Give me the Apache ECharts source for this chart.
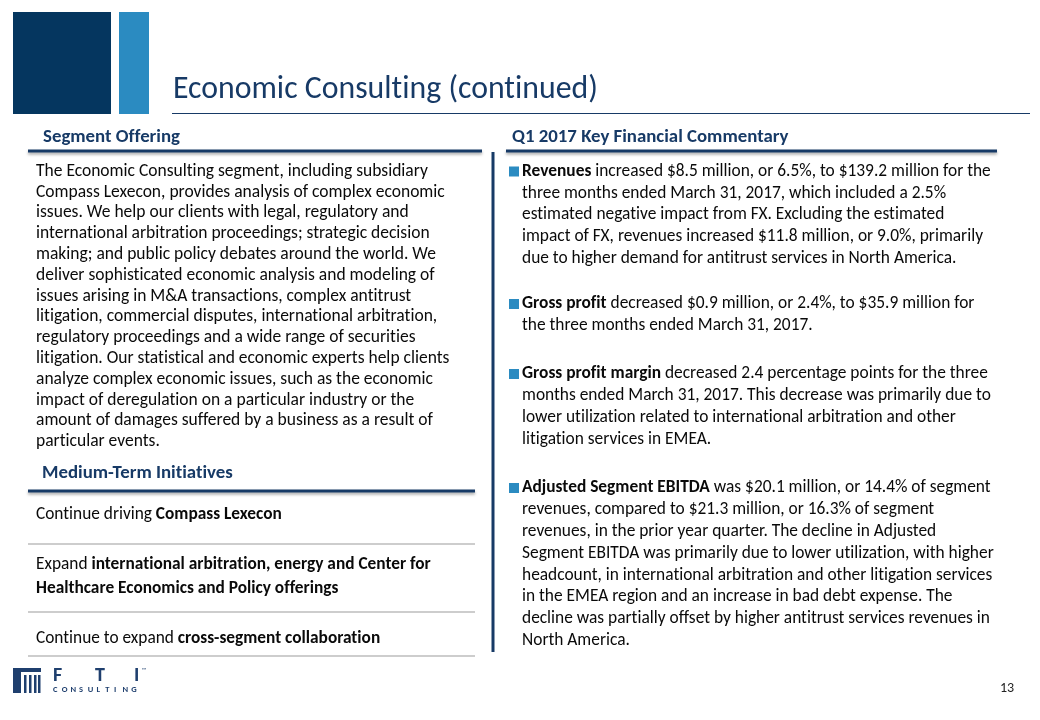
<!DOCTYPE html>
<html>
<head>
<meta charset="utf-8">
<script src="https://cdn.jsdelivr.net/npm/echarts@6/dist/echarts.min.js"></script>
<style>
html,body{margin:0;padding:0;background:#fff;}
#main{width:1040px;height:720px;}
</style>
</head>
<body>
<div id="main"></div>
<script>
// ---------- content (text data) ----------
const titleText = 'Economic Consulting (continued)';
const segmentHeading = 'Segment Offering';
const commentaryHeading = 'Q1 2017 Key Financial Commentary';
const initiativesHeading = 'Medium-Term Initiatives';
const segmentLines = [
  'The Economic Consulting segment, including subsidiary',
  'Compass Lexecon, provides analysis of complex economic',
  'issues. We help our clients with legal, regulatory and',
  'international arbitration proceedings; strategic decision',
  'making; and public policy debates around the world. We',
  'deliver sophisticated economic analysis and modeling of',
  'issues arising in M&A transactions, complex antitrust',
  'litigation, commercial disputes, international arbitration,',
  'regulatory proceedings and a wide range of securities',
  'litigation. Our statistical and economic experts help clients',
  'analyze complex economic issues, such as the economic',
  'impact of deregulation on a particular industry or the',
  'amount of damages suffered by a business as a result of',
  'particular events.'
];
const initiatives = [
  ['Continue driving **Compass Lexecon**'],
  ['Expand **international arbitration, energy and Center for**', '**Healthcare Economics and Policy offerings**'],
  ['Continue to expand **cross-segment collaboration**']
];
const commentary = [
  ['**Revenues** increased $8.5 million, or 6.5%, to $139.2 million for the',
   'three months ended March 31, 2017, which included a 2.5%',
   'estimated negative impact from FX. Excluding the estimated',
   'impact of FX, revenues increased $11.8 million, or 9.0%, primarily',
   'due to higher demand for antitrust services in North America.'],
  ['**Gross profit** decreased $0.9 million, or 2.4%, to $35.9 million for',
   'the three months ended March 31, 2017.'],
  ['**Gross profit margin** decreased 2.4 percentage points for the three',
   'months ended March 31, 2017. This decrease was primarily due to',
   'lower utilization related to international arbitration and other',
   'litigation services in EMEA.'],
  ['**Adjusted Segment EBITDA** was $20.1 million, or 14.4% of segment',
   'revenues, compared to $21.3 million, or 16.3% of segment',
   'revenues, in the prior year quarter. The decline in Adjusted',
   'Segment EBITDA was primarily due to lower utilization, with higher',
   'headcount, in international arbitration and other litigation services',
   'in the EMEA region and an increase in bad debt expense. The',
   'decline was partially offset by higher antitrust services revenues in',
   'North America.']
];
const pageNumber = '13';
const logoWord = 'F T I';
const logoSub = 'CONSULTING';

// ---------- layout helpers ----------
const FONT = 'Carlito, Calibri, Lato, sans-serif';
const NAVY = '#05365F';
const HEAD = '#173A66';
const BLUE = '#2B8BC1';
const TEXT = '#0A0A0A';
const cv = document.createElement('canvas');
const ctx = cv.getContext('2d');
// break the "ti"/"tt" ligatures of the fallback font so glyphs look like the original
function noLig(s) { return s.replace(/t(?=[it])/g, 't\u200C').replace(/f(?=[ifl])/g, 'f\u200C'); }
function measure(str, bold, size, weight) {
  ctx.font = (weight || (bold ? 'bold' : 'normal')) + ' ' + size + 'px ' + FONT;
  return ctx.measureText(noLig(str)).width;
}
function parse(line) {
  const parts = line.split('**');
  return parts.map((t, i) => ({ t: t, b: i % 2 === 1 })).filter(s => s.t.length);
}
function lineWidth(line, size) {
  return parse(line).reduce((w, s) => w + measure(s.t, s.b, size), 0);
}
function fit(line, target) { return 100 * target / lineWidth(line, 100); }

const g = [];
function textLine(line, x, y, size, color, weight) {
  let cx = x;
  parse(line).forEach(s => {
    const w = weight || (s.b ? 'bold' : 'normal');
    g.push({ type: 'text', x: cx, y: y, silent: true,
      style: { text: noLig(s.t), fontSize: size, fontFamily: FONT, fontWeight: w,
               fill: color, align: 'left', verticalAlign: 'middle' } });
    cx += measure(s.t, s.b, size, w);
  });
}
function rect(x, y, w, h, fill) {
  g.push({ type: 'rect', silent: true, shape: { x: x, y: y, width: w, height: h }, style: { fill: fill } });
}
function hline(x1, x2, y, w, color, shadow) {
  const st = { stroke: color, lineWidth: w };
  if (shadow) { st.shadowColor = 'rgba(0,0,0,0.35)'; st.shadowBlur = 3; st.shadowOffsetY = 2; }
  g.push({ type: 'line', silent: true, shape: { x1: x1, y1: y, x2: x2, y2: y }, style: st });
}

// header blocks
rect(13, 12, 98, 102, NAVY);
rect(119, 12, 30, 102, BLUE);
textLine(titleText, 173, 90, fit(titleText, 425), HEAD);
hline(172, 1030, 113.5, 1.2, HEAD);

// section headings
const hs = fit('**' + segmentHeading + '**', 137);
textLine('**' + segmentHeading + '**', 43, 137, hs, HEAD);
textLine('**' + commentaryHeading + '**', 512, 137, hs, HEAD);
hline(28, 482, 151, 3, HEAD, true);
hline(506, 997, 151, 3, HEAD, true);
g.push({ type: 'line', silent: true, shape: { x1: 493, y1: 152, x2: 493, y2: 652 }, style: { stroke: HEAD, lineWidth: 3 } });

// segment offering paragraph
const ps = fit(segmentLines[0], 392);
segmentLines.forEach((l, i) => textLine(l, 36, 171.5 + i * 20.8, ps, TEXT));

// medium-term initiatives
textLine('**' + initiativesHeading + '**', 42, 473, hs, HEAD);
hline(28, 475, 491, 3, HEAD, true);
const is = fit(initiatives[1][0], 395);
const itemY = [515, 565, 639];
const sepY = [544, 612, 656];
initiatives.forEach((lines, k) => {
  lines.forEach((l, j) => textLine(l, 36, itemY[k] + j * 24, is, TEXT));
  hline(28, 475, sepY[k], 2, '#CDCDCD');
});

// commentary bullets
const cs = fit(commentary[0][0], 469);
const bulletY = [171.5, 304, 374, 488];
commentary.forEach((lines, k) => {
  rect(509, bulletY[k] - 5, 10, 10, BLUE);
  lines.forEach((l, j) => textLine(l, 522, bulletY[k] + j * 21.8, cs, TEXT));
});

// page number
textLine(pageNumber, 1000, 688, 14, '#222');

// logo
const LOGO = '#1F3F6E';
rect(13, 668, 28, 4, LOGO);
rect(13, 668, 8, 25, LOGO);
[24, 29, 34, 38].forEach(x => rect(x, 675, 2.5, 18, LOGO));
const fl = logoWord.split(' ');
const fx = [53, 95, 134];
fl.forEach((c, i) => textLine(c, fx[i], 676, 20, LOGO, '900'));
textLine('™', 142, 670, 6, LOGO);
logoSub.split('').forEach((c, i) => textLine(c, 53 + i * 8.7, 690, 8.5, LOGO, 'bold'));

const chart = echarts.init(document.getElementById('main'), null, { renderer: 'canvas' });
chart.setOption({ animation: false, backgroundColor: '#ffffff', graphic: { elements: g } });
</script>
</body>
</html>
